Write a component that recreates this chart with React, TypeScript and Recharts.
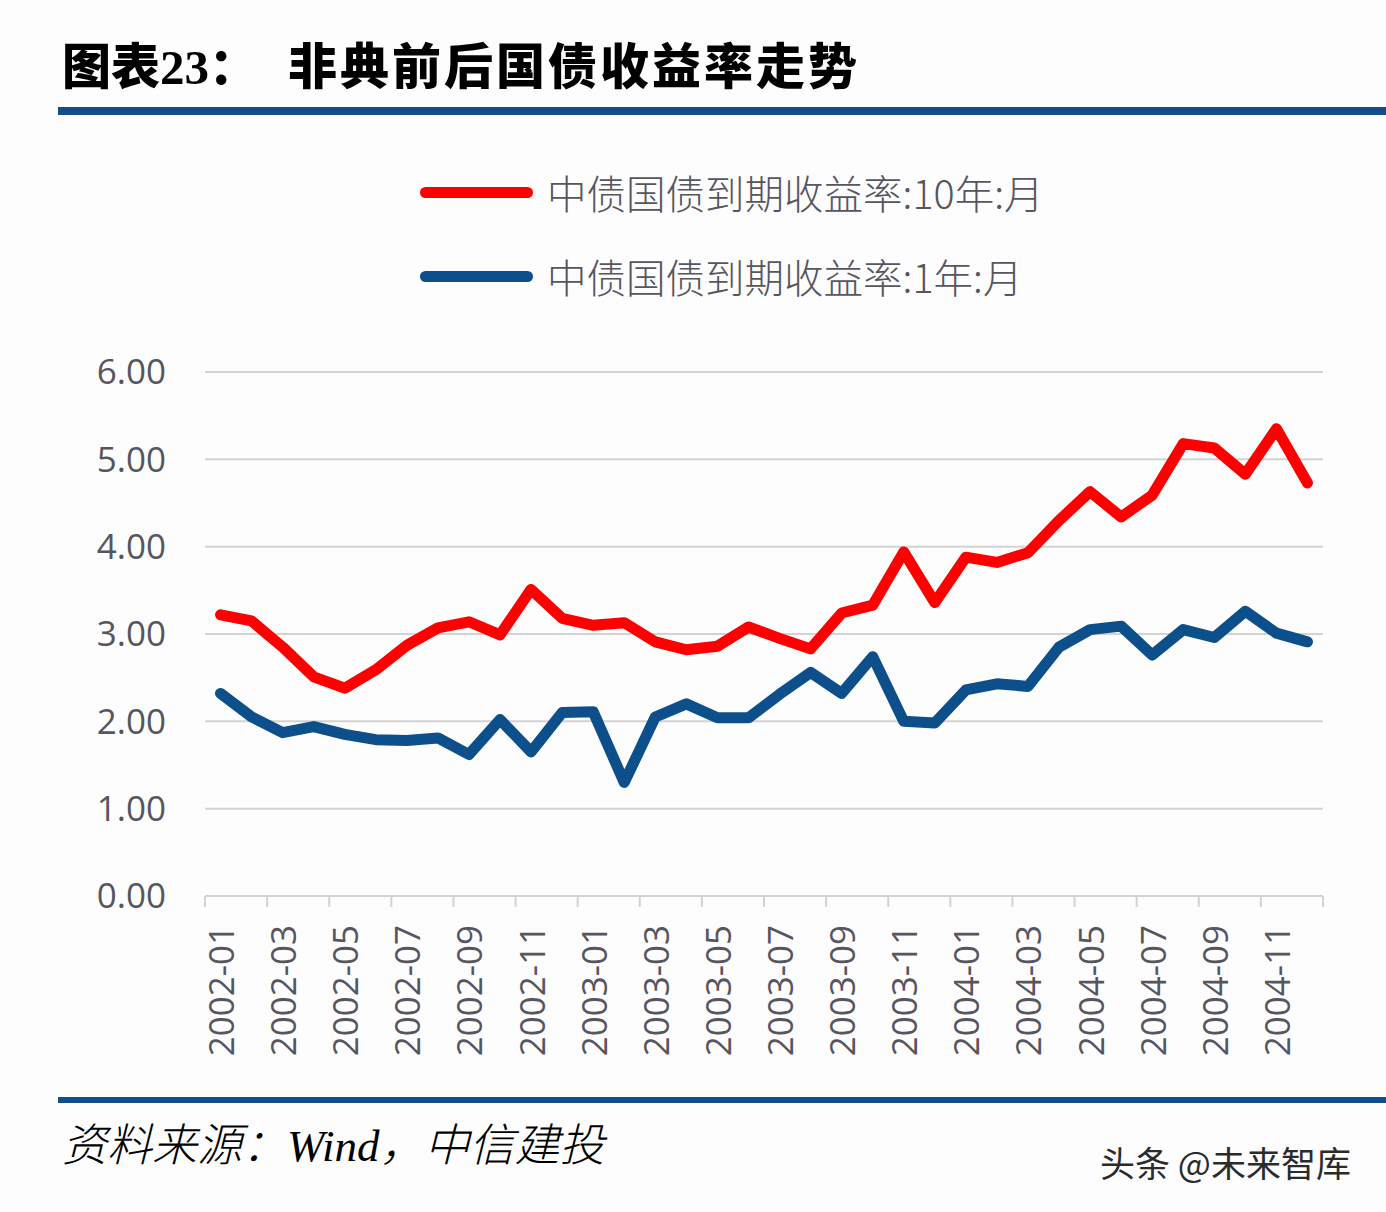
import React from 'react';
import { LineChart, Line, XAxis, YAxis, CartesianGrid } from 'recharts';

const months = [
  '2002-01', '2002-02', '2002-03', '2002-04', '2002-05', '2002-06',
  '2002-07', '2002-08', '2002-09', '2002-10', '2002-11', '2002-12',
  '2003-01', '2003-02', '2003-03', '2003-04', '2003-05', '2003-06',
  '2003-07', '2003-08', '2003-09', '2003-10', '2003-11', '2003-12',
  '2004-01', '2004-02', '2004-03', '2004-04', '2004-05', '2004-06',
  '2004-07', '2004-08', '2004-09', '2004-10', '2004-11', '2004-12',
];

// 中债国债到期收益率 (%)
const yield10Y = [
  3.22, 3.15, 2.85, 2.51, 2.38, 2.59, 2.87, 3.07, 3.14, 2.99, 3.51, 3.18,
  3.10, 3.13, 2.91, 2.82, 2.86, 3.08, 2.95, 2.83, 3.24, 3.33, 3.94, 3.36,
  3.88, 3.82, 3.93, 4.30, 4.63, 4.34, 4.59, 5.18, 5.13, 4.83, 5.35, 4.73,
];
const yield1Y = [
  2.32, 2.05, 1.87, 1.94, 1.85, 1.79, 1.78, 1.81, 1.62, 2.02, 1.65, 2.10,
  2.11, 1.30, 2.05, 2.20, 2.04, 2.04, 2.31, 2.56, 2.32, 2.74, 2.00, 1.98,
  2.36, 2.43, 2.40, 2.85, 3.05, 3.09, 2.76, 3.05, 2.96, 3.26, 3.01, 2.91,
];

const yTicks = [0, 1, 2, 3, 4, 5, 6];

const series = [
  { key: 'y10', name: '中债国债到期收益率:10年:月', color: '#ff0000' },
  { key: 'y1', name: '中债国债到期收益率:1年:月', color: '#0d4f8b' },
];

const data = months.map((month, i) => ({ month, y10: yield10Y[i], y1: yield1Y[i] }));

const RULE = '#124d8e';
const TEXT = '#575560';
const GRID = '#d3d3d3';
const CJK = '"Noto Sans CJK SC", "Noto Sans", sans-serif';

// rotated month label plus a tick mark on the left edge of its band
const MonthTick = (props: any) => {
  const { x, y, payload, index, visibleTicksCount } = props;
  const half = payload?.offset ?? 15.5;
  const left = x - half;
  const isLast = index === visibleTicksCount - 1;
  return (
    <g>
      <line x1={left} x2={left} y1={y} y2={y + 11} stroke={GRID} strokeWidth={2} />
      {isLast && (
        <line x1={x + 3 * half} x2={x + 3 * half} y1={y} y2={y + 11} stroke={GRID} strokeWidth={2} />
      )}
      <text
        x={x}
        y={y + 29}
        transform={`rotate(-90, ${x}, ${y + 29})`}
        textAnchor="end"
        dominantBaseline="central"
        fill={TEXT}
        fontSize={35}
        fontFamily='"Open Sans", sans-serif'
      >
        {payload.value}
      </text>
    </g>
  );
};

const App: React.FC = () => {
  return (
    <div
      style={{
        position: 'absolute',
        left: 0,
        top: 0,
        width: 1386,
        height: 1212,
        background: '#fdfdfe',
        overflow: 'hidden',
      }}
    >
      <div
        style={{
          position: 'absolute',
          left: 62,
          top: 38,
          fontFamily: CJK,
          fontWeight: 900,
          fontSize: 49,
          lineHeight: '50px',
          color: '#000',
          whiteSpace: 'nowrap',
        }}
      >
        图表<span style={{ fontFamily: '"Liberation Serif", serif', fontWeight: 700 }}>23</span>：
        <span style={{ marginLeft: 30, letterSpacing: 3 }}>非典前后国债收益率走势</span>
      </div>
      <div style={{ position: 'absolute', left: 58, top: 107, width: 1328, height: 8, background: RULE }} />

      {series.map((s, i) => (
        <div key={s.key} style={{ position: 'absolute', left: 415, top: 170 + i * 84, height: 44, whiteSpace: 'nowrap' }}>
          <div
            style={{
              position: 'absolute',
              left: 5,
              top: 17,
              width: 113,
              height: 11,
              borderRadius: 6,
              background: s.color,
            }}
          />
          <div
            style={{
              position: 'absolute',
              left: 132,
              top: 0,
              fontFamily: CJK,
              fontWeight: 300,
              fontSize: 39.5,
              lineHeight: '44px',
              color: TEXT,
            }}
          >
            {s.name}
          </div>
        </div>
      ))}

      <div style={{ position: 'absolute', left: 0, top: 0 }}>
        <LineChart width={1386} height={1212} data={data} margin={{ top: 372, right: 63, bottom: 0, left: 0 }}>
          <CartesianGrid vertical={false} stroke={GRID} strokeWidth={2} />
          <XAxis
            dataKey="month"
            scale="band"
            interval={1}
            height={316}
            tickLine={false}
            tickSize={0}
            tickMargin={0}
            axisLine={{ stroke: GRID, strokeWidth: 2 }}
            tick={<MonthTick />}
          />
          <YAxis
            width={205}
            domain={[0, 6]}
            ticks={yTicks}
            axisLine={false}
            tickLine={false}
            tickSize={0}
            tickMargin={39}
            tickFormatter={(v: number) => v.toFixed(2)}
            tick={{ fill: TEXT, fontSize: 35, fontFamily: '"Open Sans", sans-serif' }}
          />
          {series.map((s) => (
            <Line
              key={s.key}
              dataKey={s.key}
              name={s.name}
              stroke={s.color}
              strokeWidth={11}
              strokeLinejoin="round"
              strokeLinecap="round"
              dot={false}
              isAnimationActive={false}
            />
          ))}
        </LineChart>
      </div>

      <div style={{ position: 'absolute', left: 58, top: 1097, width: 1328, height: 6, background: RULE }} />
      <div
        style={{
          position: 'absolute',
          left: 62,
          top: 1120,
          fontFamily: '"Liberation Serif", "Noto Sans CJK SC", serif',
          fontStyle: 'italic',
          fontWeight: 300,
          fontSize: 45,
          lineHeight: '52px',
          color: '#000',
          whiteSpace: 'nowrap',
        }}
      >
        资料来源：Wind，中信建投
      </div>
      <div
        style={{
          position: 'absolute',
          left: 1100,
          top: 1141,
          fontFamily: CJK,
          fontSize: 35,
          lineHeight: '42px',
          color: '#2b2b2b',
          whiteSpace: 'nowrap',
        }}
      >
        头条 @未来智库
      </div>
    </div>
  );
};

export default App;
